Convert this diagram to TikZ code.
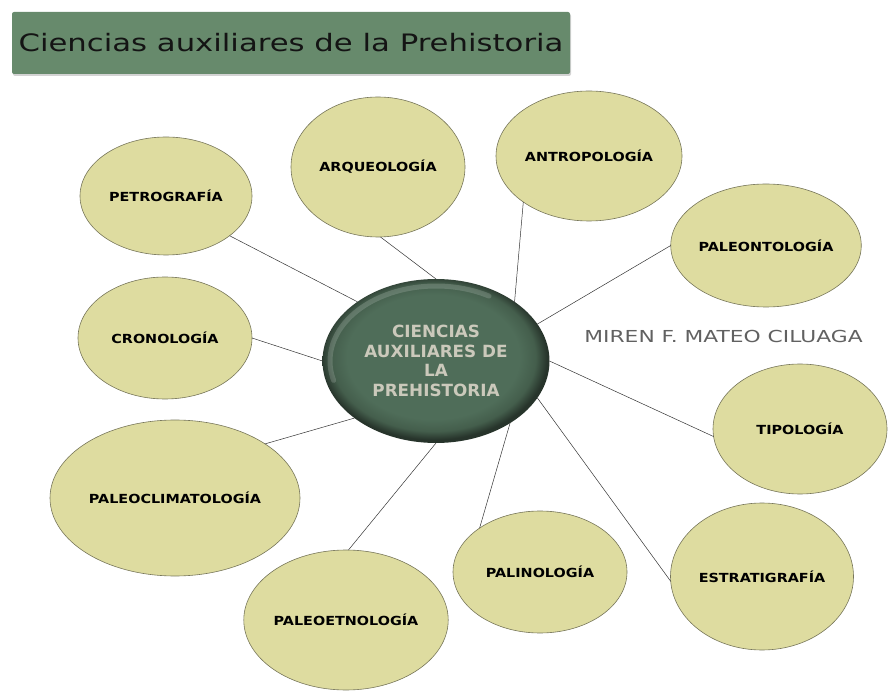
\documentclass[tikz,border=0pt]{standalone}
\usepackage{fontspec}
\setmainfont{DejaVu Sans}
\newfontfamily\titulofont[FakeStretch=1.28]{DejaVu Sans}
\newfontfamily\etiquetafont[FakeStretch=1.15]{DejaVu Sans}
\newfontfamily\autorfont[FakeStretch=1.32]{DejaVu Sans}
\usetikzlibrary{shapes.geometric,shadows}
\definecolor{verdetitulo}{HTML}{678A6C}
\definecolor{crema}{HTML}{DEDCA0}
\definecolor{bordecrema}{HTML}{77765A}
\definecolor{verdeclaro}{HTML}{4F6D59}
\definecolor{verdemedio}{HTML}{445E4C}
\definecolor{verdeoscuro}{HTML}{27342B}
\definecolor{textocentro}{HTML}{CBC9BB}
\pgfdeclareradialshading{bola}{\pgfpoint{-1bp}{2bp}}{color(0bp)=(verdeclaro); color(19bp)=(verdeclaro); color(22.5bp)=(verdemedio); color(25bp)=(verdeoscuro); color(50bp)=(verdeoscuro)}

\begin{document}
\begin{tikzpicture}[x=1pt,y=1pt,
    ciencia/.style={ellipse, draw=bordecrema, line width=.6pt, fill=crema,
      inner sep=0pt, outer sep=0pt,
      font=\etiquetafont\bfseries\fontsize{12.5}{14}\selectfont},
    conector/.style={draw=black!80, line width=.5pt}]
    \useasboundingbox (0,0) rectangle (891,694);
    % titulo
    \node[rectangle, rounded corners=2pt, fill=verdetitulo, minimum width=558pt,
      minimum height=62pt, drop shadow={opacity=.35, shadow xshift=1pt, shadow yshift=-2pt},
      font=\titulofont\fontsize{24}{26}\selectfont, text=black!92] (titulo) at (291,651)
      {Ciencias auxiliares de la Prehistoria};
    % nodo central
    \node[ellipse, shading=bola, minimum width=227pt, minimum height=164pt,
      inner sep=0pt, outer sep=0pt, align=center, text=textocentro,
      font=\bfseries\fontsize{16.8}{19.5}\selectfont] (centro) at (436,333)
      {CIENCIAS\\AUXILIARES DE\\LA\\PREHISTORIA};
    \draw[white, opacity=.16, line width=5pt, line cap=round] (centro.center)
      ++(60:106pt and 75pt) arc[start angle=60, end angle=195, x radius=106pt, y radius=75pt];
    % ciencias auxiliares
    \node[ciencia, minimum width=172pt, minimum height=118pt] (petro) at (166,498) {PETROGRAFÍA};
    \node[ciencia, minimum width=174pt, minimum height=140pt] (arq) at (378,527) {ARQUEOLOGÍA};
    \node[ciencia, minimum width=186pt, minimum height=130pt] (antro) at (589,538) {ANTROPOLOGÍA};
    \node[ciencia, minimum width=190pt, minimum height=123pt] (paleont) at (766,448.5) {PALEONTOLOGÍA};
    \node[ciencia, minimum width=174pt, minimum height=122pt] (crono) at (165,356) {CRONOLOGÍA};
    \node[ciencia, minimum width=174pt, minimum height=130pt] (tipo) at (800,265) {TIPOLOGÍA};
    \node[ciencia, minimum width=250pt, minimum height=156pt] (paleocli) at (175,196) {PALEOCLIMATOLOGÍA};
    \node[ciencia, minimum width=200pt, minimum height=140pt] (paleoet) at (346,74) {PALEOETNOLOGÍA};
    \node[ciencia, minimum width=174pt, minimum height=122pt] (palino) at (540,122) {PALINOLOGÍA};
    \node[ciencia, minimum width=183pt, minimum height=147pt] (estrat) at (762,117.5) {ESTRATIGRAFÍA};
    % autora
    \node[text=black!62, font=\autorfont\fontsize{16.5}{18}\selectfont] (autor) at (723.5,358)
      {MIREN F. MATEO CILUAGA};
    % conectores
    \draw[conector] (petro.-32) -- (centro.143.5)
          (arq.-88) -- (centro.90)
          (antro.215) -- (centro.37)
          (paleont.180) -- (centro.20.6)
          (crono.0) -- (centro.180)
          (tipo.185) -- (centro.0)
          (paleocli.31) -- (centro.215)
          (paleoet.88) -- (centro.270)
          (palino.144) -- (centro.-40)
          (estrat.183) -- (centro.-20.4);
\end{tikzpicture}
\end{document}
